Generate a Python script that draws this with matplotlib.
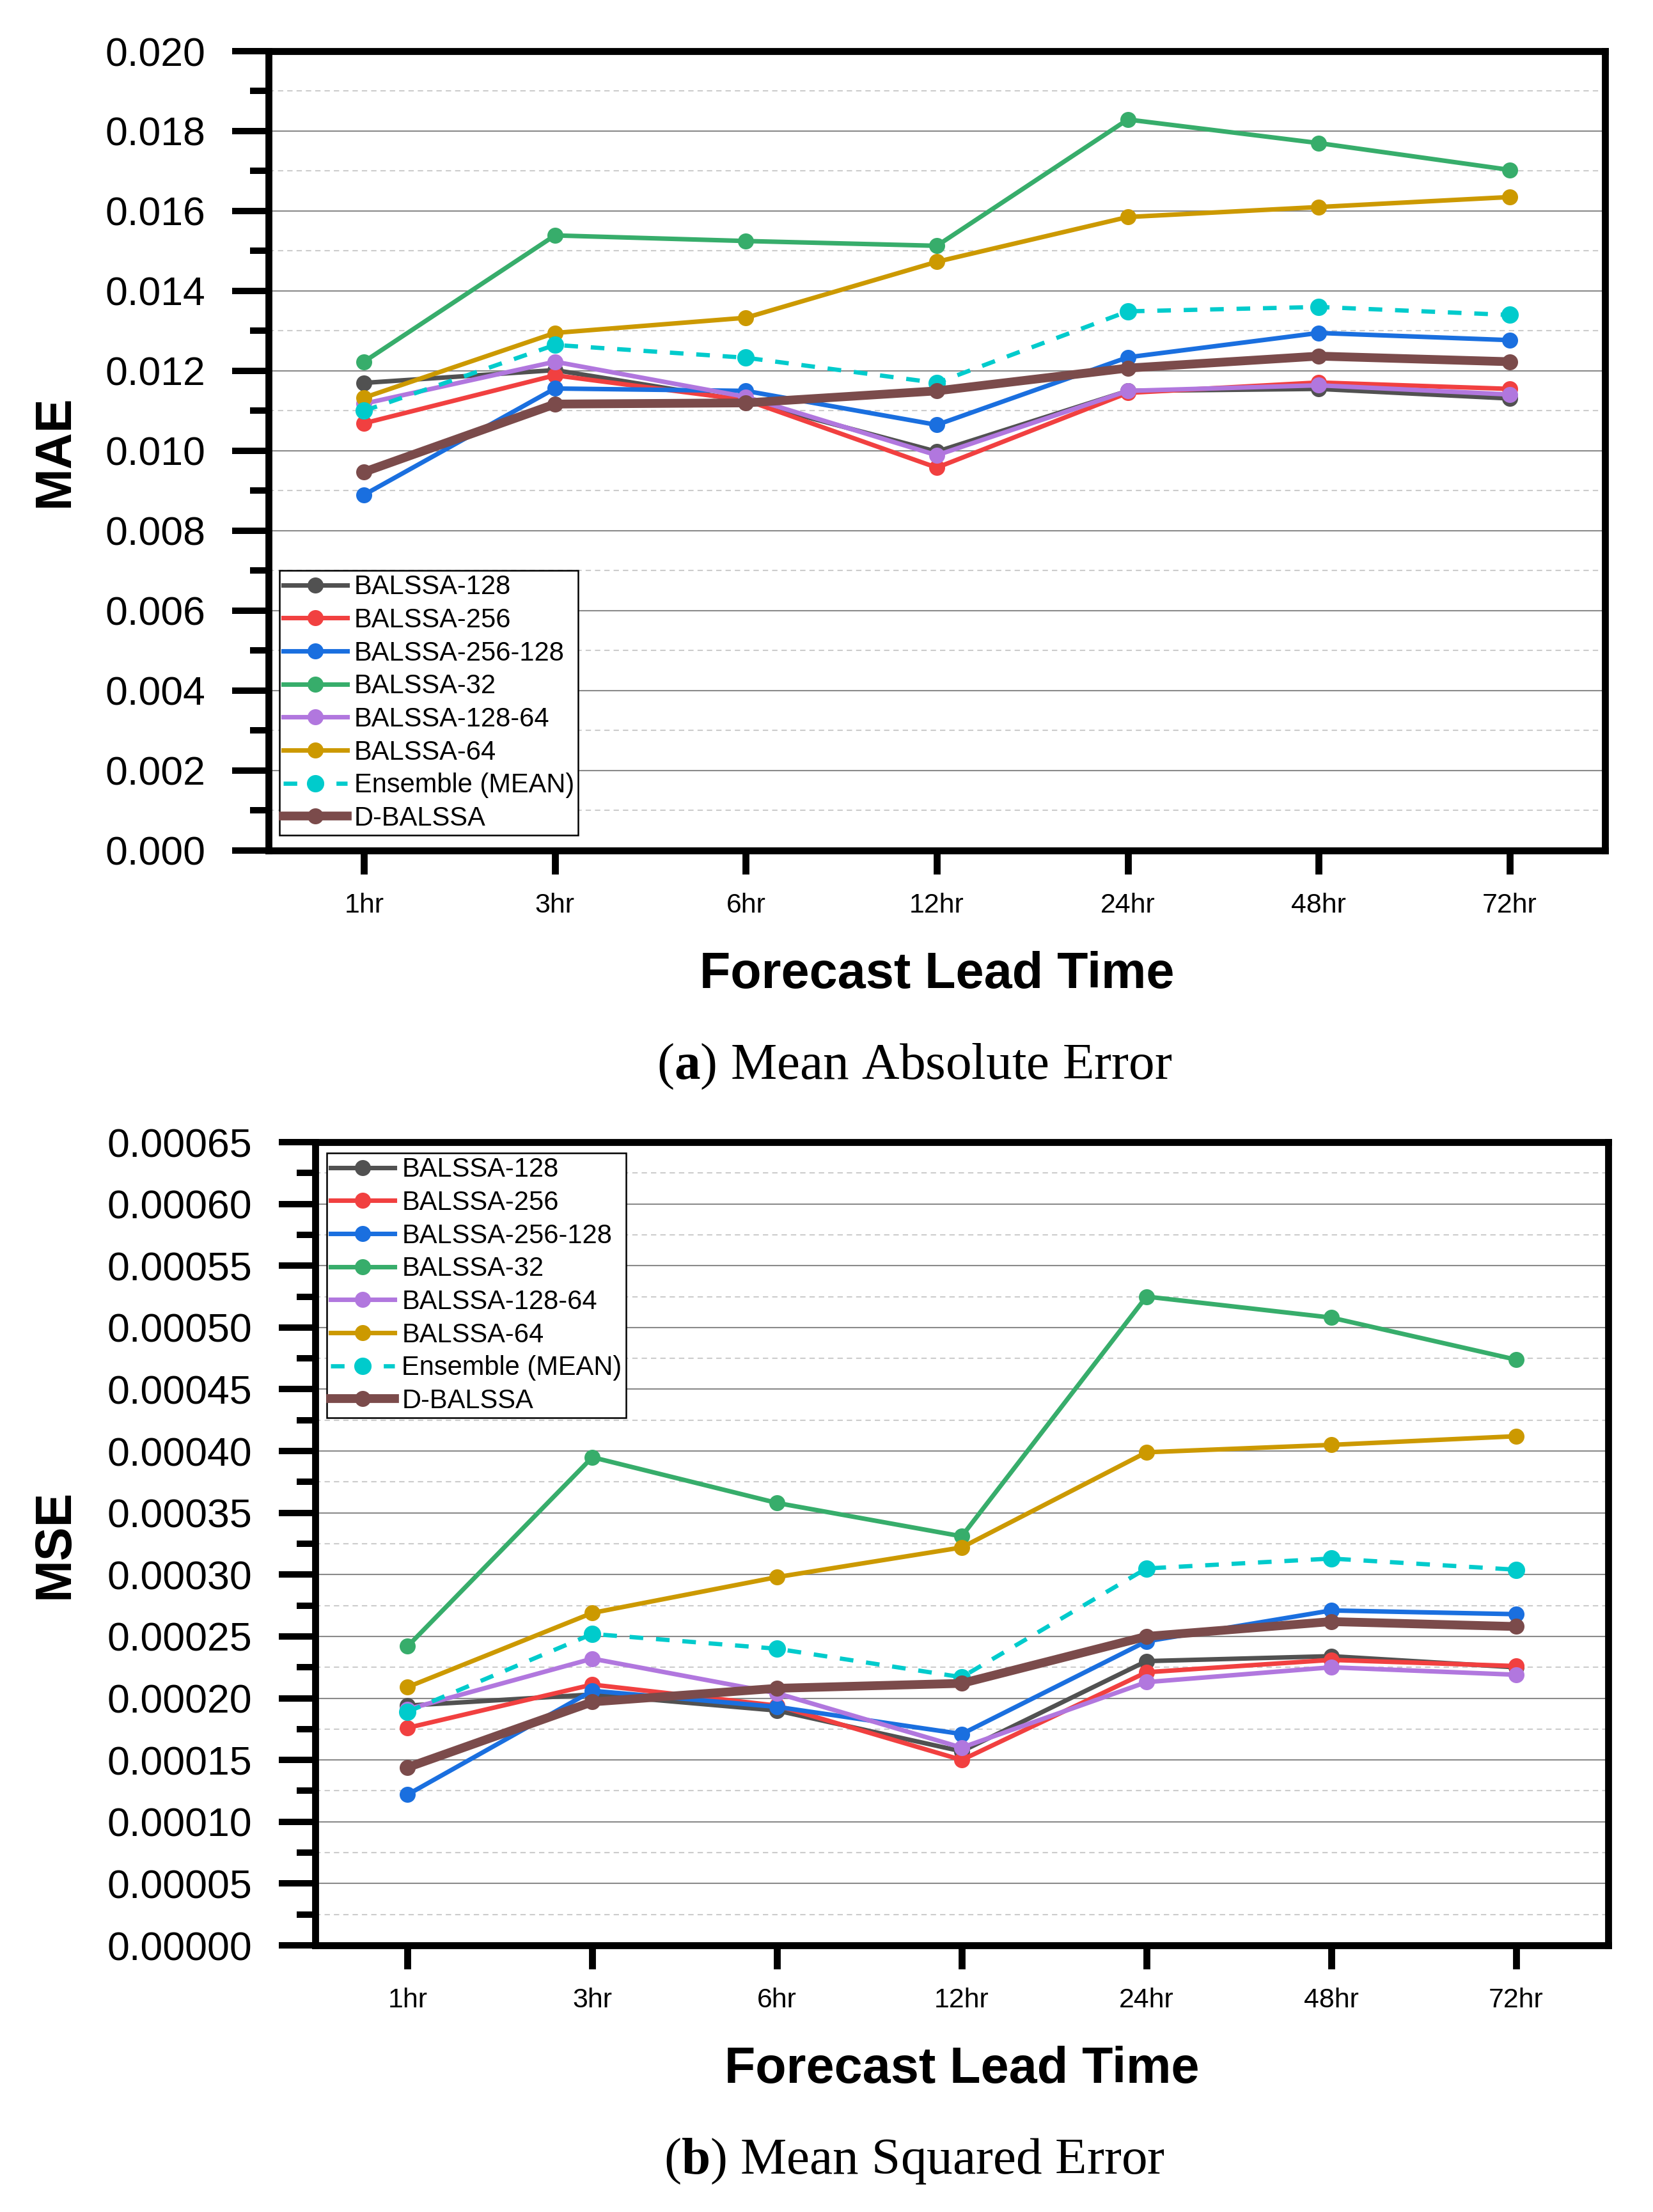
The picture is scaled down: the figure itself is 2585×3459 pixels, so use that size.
import matplotlib
matplotlib.use('Agg')
import matplotlib.pyplot as plt
from matplotlib.ticker import MultipleLocator, FormatStrFormatter, NullLocator

# lead times
lead_times = ['1hr', '3hr', '6hr', '12hr', '24hr', '48hr', '72hr']

model_names = ['BALSSA-128', 'BALSSA-256', 'BALSSA-256-128', 'BALSSA-32',
               'BALSSA-128-64', 'BALSSA-64', 'Ensemble (MEAN)', 'D-BALSSA']

# MAE per model
mae_balssa_128 = [0.01170, 0.01202, 0.01125, 0.00998, 0.01150, 0.01155, 0.01131]
mae_balssa_256 = [0.01069, 0.01189, 0.01127, 0.00958, 0.01145, 0.01171, 0.01155]
mae_balssa_256_128 = [0.00890, 0.01156, 0.01150, 0.01065, 0.01234, 0.01295, 0.01277]
mae_balssa_32 = [0.01223, 0.01539, 0.01525, 0.01513, 0.01829, 0.01770, 0.01703]
mae_balssa_128_64 = [0.01118, 0.01223, 0.01135, 0.00989, 0.01150, 0.01164, 0.01141]
mae_balssa_64 = [0.01133, 0.01295, 0.01333, 0.01473, 0.01585, 0.01610, 0.01635]
mae_ensemble = [0.01100, 0.01265, 0.01233, 0.01170, 0.01349, 0.01360, 0.01340]
mae_d_balssa = [0.00947, 0.01117, 0.01120, 0.01150, 0.01207, 0.01237, 0.01223]

# MSE per model
mse_balssa_128 = [0.000194, 0.000203, 0.000190, 0.000157, 0.000230, 0.000234, 0.000225]
mse_balssa_256 = [0.000176, 0.000211, 0.000194, 0.000150, 0.000221, 0.000231, 0.000226]
mse_balssa_256_128 = [0.000122, 0.000206, 0.000193, 0.000171, 0.000246, 0.000271, 0.000268]
mse_balssa_32 = [0.000242, 0.000395, 0.000358, 0.000331, 0.000525, 0.000508, 0.000474]
mse_balssa_128_64 = [0.000191, 0.000232, 0.000204, 0.000160, 0.000213, 0.000225, 0.000219]
mse_balssa_64 = [0.000209, 0.000269, 0.000298, 0.000322, 0.000399, 0.000405, 0.000412]
mse_ensemble = [0.000189, 0.000252, 0.000240, 0.000217, 0.000305, 0.000313, 0.000304]
mse_d_balssa = [0.000144, 0.000197, 0.000208, 0.000212, 0.000250, 0.000262, 0.000258]

mae_series = [mae_balssa_128, mae_balssa_256, mae_balssa_256_128, mae_balssa_32,
              mae_balssa_128_64, mae_balssa_64, mae_ensemble, mae_d_balssa]
mse_series = [mse_balssa_128, mse_balssa_256, mse_balssa_256_128, mse_balssa_32,
              mse_balssa_128_64, mse_balssa_64, mse_ensemble, mse_d_balssa]

colors = ['#515151', '#F14040', '#1A6FDF', '#37AD6B',
          '#B177DE', '#CC9900', '#00CBCC', '#7B4B4B']

plt.rcParams['font.family'] = ['Liberation Sans', 'DejaVu Sans']
plt.rcParams['mathtext.fontset'] = 'custom'
plt.rcParams['mathtext.rm'] = 'Liberation Serif'
plt.rcParams['mathtext.bf'] = 'Liberation Serif:bold'

W, H = 2586, 3459
fig = plt.figure(figsize=(W / 300, H / 300), dpi=300)


def draw_panel(ax, series, ymax, ymajor, yminor, yfmt, ylabel, legend_loc, legend_anchor):
    x = range(len(lead_times))
    for name, vals, c in zip(model_names, series, colors):
        if name == 'Ensemble (MEAN)':
            ax.plot(x, vals, color=c, lw=1.6, dashes=(3.2, 3.0), marker='o', ms=5.5, label=name)
        elif name == 'D-BALSSA':
            ax.plot(x, vals, color=c, lw=3.3, marker='o', ms=5, label=name)
        else:
            ax.plot(x, vals, color=c, lw=1.7, marker='o', ms=5, label=name)

    ax.set_xlim(-0.5, 6.5)
    ax.set_ylim(0, ymax)
    ax.set_xticks(list(x))
    ax.set_xticklabels(lead_times)
    ax.xaxis.set_minor_locator(NullLocator())
    ax.yaxis.set_major_locator(MultipleLocator(ymajor))
    ax.yaxis.set_minor_locator(MultipleLocator(yminor))
    ax.yaxis.set_major_formatter(FormatStrFormatter(yfmt))

    for s in ax.spines.values():
        s.set_linewidth(2.6)
    ax.tick_params(axis='y', which='major', direction='out', length=13.7, width=2.4,
                   pad=10, labelsize=15)
    ax.tick_params(axis='y', which='minor', direction='out', length=7, width=2.4)
    ax.tick_params(axis='x', which='major', direction='out', length=8.8, width=2.6,
                   pad=7, labelsize=10.3)

    ax.set_axisbelow(True)
    ax.grid(which='major', axis='y', color='#8a8a8a', lw=0.5, ls='-')
    ax.grid(which='minor', axis='y', color='#cccccc', lw=0.5, ls=(0, (4, 3)))

    leg = ax.legend(loc=legend_loc, bbox_to_anchor=legend_anchor, fontsize=10,
                    frameon=True, fancybox=False, borderpad=0.15, labelspacing=0.28,
                    handlelength=2.4, handletextpad=0.26, borderaxespad=0, markerscale=1)
    leg.get_frame().set_edgecolor('black')
    leg.get_frame().set_linewidth(0.6)
    leg.get_frame().set_alpha(1)

    pos = ax.get_position()
    fig.text(86 / W, (pos.y0 + pos.y1) / 2, ylabel, rotation=90, ha='center', va='center',
             fontsize=19, fontweight='bold')


# (a) MAE
ax1 = fig.add_axes([420 / W, 1 - 1330 / H, 2090 / W, 1250 / H])
draw_panel(ax1, mae_series, 0.020, 0.002, 0.001, '%.3f', 'MAE', 'lower left', (0.008, 0.019))
fig.text((420 + 2510) / 2 / W, 1 - 1545 / H, 'Forecast Lead Time', ha='center', va='baseline',
         fontsize=19, fontweight='bold')
fig.text(1430 / W, 1 - 1687 / H, r'($\mathbf{a}$) Mean Absolute Error', ha='center',
         va='baseline', fontsize=19.5, family='Liberation Serif')

# (b) MSE
ax2 = fig.add_axes([493 / W, 1 - 3042 / H, 2022 / W, 1256 / H])
draw_panel(ax2, mse_series, 0.00065, 0.00005, 0.000025, '%.5f', 'MSE', 'upper left', (0.009, 0.9865))
fig.text((493 + 2515) / 2 / W, 1 - 3257 / H, 'Forecast Lead Time', ha='center', va='baseline',
         fontsize=19, fontweight='bold')
fig.text(1430 / W, 1 - 3399 / H, r'($\mathbf{b}$) Mean Squared Error', ha='center',
         va='baseline', fontsize=19.5, family='Liberation Serif')

fig.savefig('out.png', dpi=300)
